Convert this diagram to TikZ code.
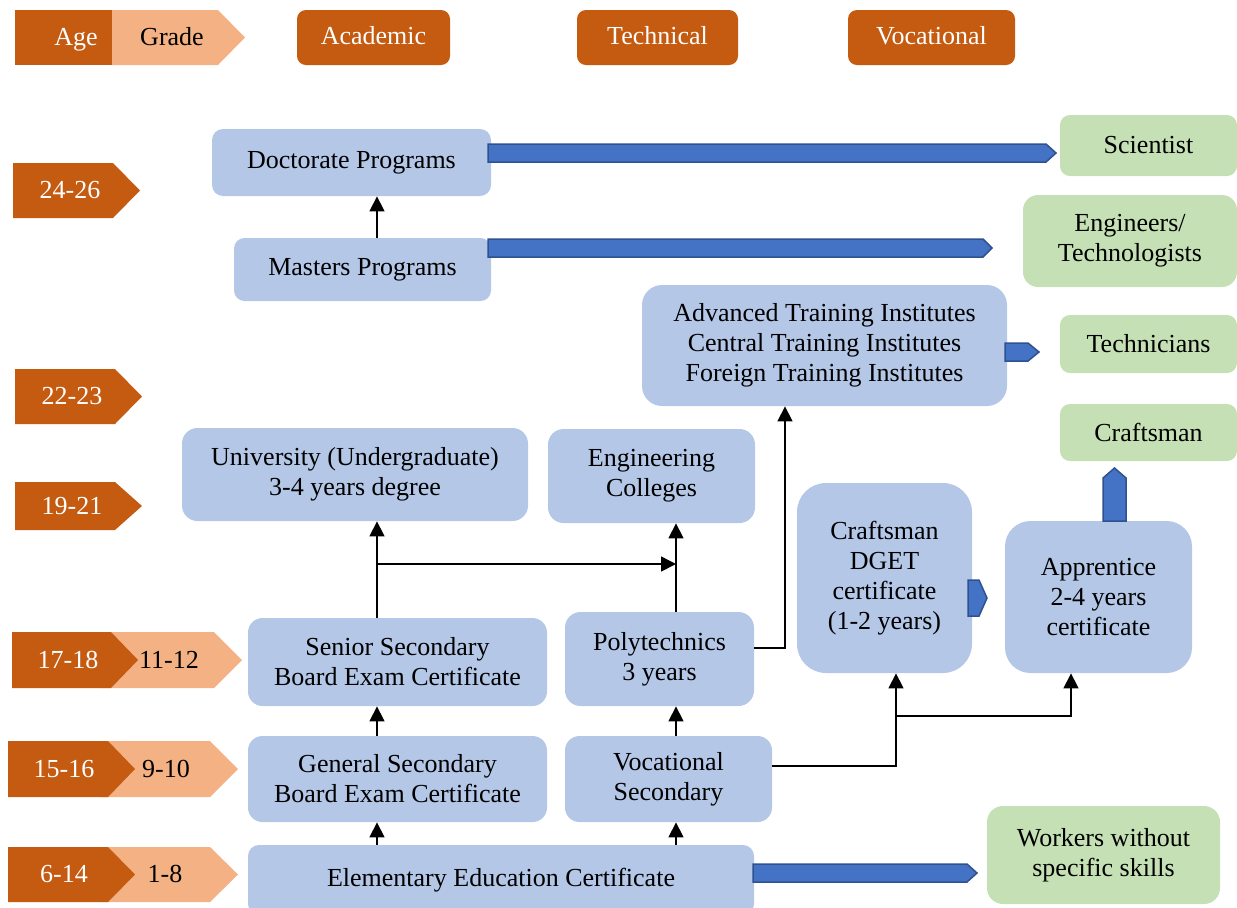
\documentclass[tikz,border=0pt]{standalone}
\usepackage{fontspec}
\setmainfont{Liberation Serif}
\usetikzlibrary{arrows.meta,calc}
\definecolor{dorange}{HTML}{C55A11}
\definecolor{lorange}{HTML}{F4B183}
\definecolor{boxblue}{HTML}{B4C7E7}
\definecolor{boxgreen}{HTML}{C5E0B4}
\definecolor{arrblue}{HTML}{4472C4}
\definecolor{arredge}{HTML}{2F528F}
\begin{document}
\begin{tikzpicture}[x=0.5pt,y=-0.5pt,
  txt/.style={font=\fontsize{13}{15}\selectfont, align=center, inner sep=0pt},
  lbl/.style={txt, text height=9pt, text depth=2pt},
  bluebox/.style={txt, fill=boxblue, rounded corners=#1},
  greenbox/.style={txt, fill=boxgreen, rounded corners=#1},
  headbox/.style={lbl, fill=dorange, text=white, rounded corners=4.5pt, minimum height=27.5pt},
  agetext/.style={lbl, text=white},
  gradetext/.style={lbl, text=black},
  agefill/.style={fill=dorange},
  gradefill/.style={fill=lorange},
  blockarrow/.style={fill=arrblue, draw=arredge, line width=0.75pt, line join=miter},
  conn/.style={-{Triangle[length=7.5pt,width=7.5pt]}, line width=0.75pt, black},
]
\useasboundingbox (0,0) rectangle (1237,907);

% ---------- header ----------
\fill[gradefill] (112,10)--(218,10)--(245,37.5)--(218,65)--(112,65)--cycle;
\fill[agefill] (15,10) rectangle (112,65);
\node[agetext] (hage) at (76,38) {Age};
\node[gradetext] (hgrade) at (172,38) {Grade};
\node[headbox, minimum width=76.5pt] (hacad) at (373.5,37.5) {Academic};
\node[headbox, minimum width=80.5pt] (htech) at (657.5,37.5) {Technical};
\node[headbox, minimum width=83.5pt] (hvoc) at (931.5,37.5) {Vocational};

% ---------- age markers ----------
\fill[agefill] (13,163)--(113,163)--(140,190.5)--(113,218)--(13,218)--cycle;
\node[agetext] (a2426) at (70,191) {24-26};
\fill[agefill] (15,369)--(115,369)--(142,396.5)--(115,424)--(15,424)--cycle;
\node[agetext] (a2223) at (72,397) {22-23};
\fill[agefill] (15,482)--(115,482)--(142,506)--(115,530)--(15,530)--cycle;
\node[agetext] (a1921) at (72,507) {19-21};

\fill[gradefill] (100,632)--(214,632)--(242,660)--(214,688)--(100,688)--cycle;
\fill[agefill] (12,632)--(111,632)--(138,660)--(111,688)--(12,688)--cycle;
\node[agetext] (a1718) at (68,661) {17-18};
\node[gradetext] (g1112) at (169,661) {11-12};

\fill[gradefill] (100,741)--(210,741)--(238,769)--(210,797)--(100,797)--cycle;
\fill[agefill] (8,741)--(108,741)--(135,769)--(108,797)--(8,797)--cycle;
\node[agetext] (a1516) at (64,770) {15-16};
\node[gradetext] (g910) at (166,770) {9-10};

\fill[gradefill] (100,847)--(210,847)--(238,874.5)--(210,902)--(100,902)--cycle;
\fill[agefill] (8,847)--(108,847)--(135,874.5)--(108,902)--(8,902)--cycle;
\node[agetext] (a614) at (64,875) {6-14};
\node[gradetext] (g18) at (165,875) {1-8};

% ---------- blue boxes ----------
\node[bluebox=5.5pt, minimum width=139.5pt, minimum height=33.5pt] (doc) at (351.5,162.5) {Doctorate Programs};
\node[bluebox=5.25pt, minimum width=128.5pt, minimum height=31.5pt] (mas) at (362.5,269.5) {Masters Programs};
\node[bluebox=10pt, minimum width=182.5pt, minimum height=60.5pt] (ati) at (824.5,345.5) {Advanced Training Institutes\\Central Training Institutes\\Foreign Training Institutes};
\node[bluebox=7.75pt, minimum width=173pt, minimum height=46.5pt] (uni) at (355,474.5) {University (Undergraduate)\\3-4 years degree};
\node[bluebox=7.8pt, minimum width=103.5pt, minimum height=47pt] (eng) at (651.5,476) {Engineering\\Colleges};
\node[bluebox=14.5pt, minimum width=87.5pt, minimum height=95pt] (dget) at (884.5,578) {Craftsman\\DGET\\certificate\\(1-2 years)};
\node[bluebox=12.7pt, minimum width=93.5pt, minimum height=76pt] (app) at (1098.5,597) {Apprentice\\2-4 years\\certificate};
\node[bluebox=7.3pt, minimum width=149.5pt, minimum height=44pt] (sen) at (397.5,662) {Senior Secondary\\Board Exam Certificate};
\node[bluebox=7.8pt, minimum width=94.5pt, minimum height=47pt] (poly) at (659.5,659) {Polytechnics\\3 years};
\node[bluebox=7.2pt, minimum width=149.5pt, minimum height=43pt] (gen) at (397.5,779) {General Secondary\\Board Exam Certificate};
\node[bluebox=7.2pt, minimum width=103.5pt, minimum height=43pt] (voc) at (668.5,779) {Vocational\\Secondary};
\node[bluebox=5.5pt, minimum width=253pt, minimum height=35pt] (ele) at (501,880) {Elementary Education Certificate};

% ---------- green boxes ----------
\node[greenbox=5pt, minimum width=88.5pt, minimum height=30.5pt] (sci) at (1148.5,145.5) {Scientist};
\node[greenbox=7.5pt, minimum width=107pt, minimum height=46pt] (engt) at (1130,241) {Engineers/\\Technologists};
\node[greenbox=5pt, minimum width=88.5pt, minimum height=29pt] (tech) at (1148.5,344) {Technicians};
\node[greenbox=5pt, minimum width=88.5pt, minimum height=28.5pt] (craft) at (1148.5,432.5) {Craftsman};
\node[greenbox=8pt, minimum width=116.5pt, minimum height=49pt] (work) at (1103.5,855) {Workers without\\specific skills};

% ---------- block arrows ----------
\draw[blockarrow] (488,144)--(1046,144)--(1056,153)--(1046,162)--(488,162)--cycle;
\draw[blockarrow] (488,239)--(983,239)--(992,248)--(983,257)--(488,257)--cycle;
\draw[blockarrow] (1005,343)--(1028,343)--(1039,352)--(1028,361)--(1005,361)--cycle;
\draw[blockarrow] (1103,521)--(1103,478)--(1114.5,468)--(1126,478)--(1126,521)--cycle;
\draw[blockarrow] (968,580)--(979,580)--(987,598)--(979,616)--(968,616)--cycle;
\draw[blockarrow] (753,864)--(967,864)--(977,873)--(967,882)--(753,882)--cycle;

% ---------- connectors ----------
\coordinate (c1) at (377,0);
\coordinate (c2) at (676,0);
\coordinate (c3) at (785,0);
\coordinate (c4) at (896,0);
\coordinate (c5) at (1071,0);
\coordinate (br) at (377,564);
\coordinate (br2) at (896,716);

\draw[conn] (c1 |- mas.north) -- (c1 |- doc.south);
\draw[conn] (c1 |- sen.north) -- (c1 |- uni.south);
\draw[conn] (br) -- (br -| c2);
\draw[conn] (c1 |- gen.north) -- (c1 |- sen.south);
\draw[conn] (c1 |- ele.north) -- (c1 |- gen.south);
\draw[conn] (c2 |- poly.north) -- (c2 |- eng.south);
\draw[conn] (c2 |- voc.north) -- (c2 |- poly.south);
\draw[conn] (c2 |- ele.north) -- (c2 |- voc.south);
\draw[conn] ([yshift=5.5pt]poly.east) -| (c3 |- ati.south);
\draw[conn] ([yshift=6.5pt]voc.east) -| (c4 |- dget.south);
\draw[conn] (br2) -| (c5 |- app.south);
\end{tikzpicture}
\end{document}
